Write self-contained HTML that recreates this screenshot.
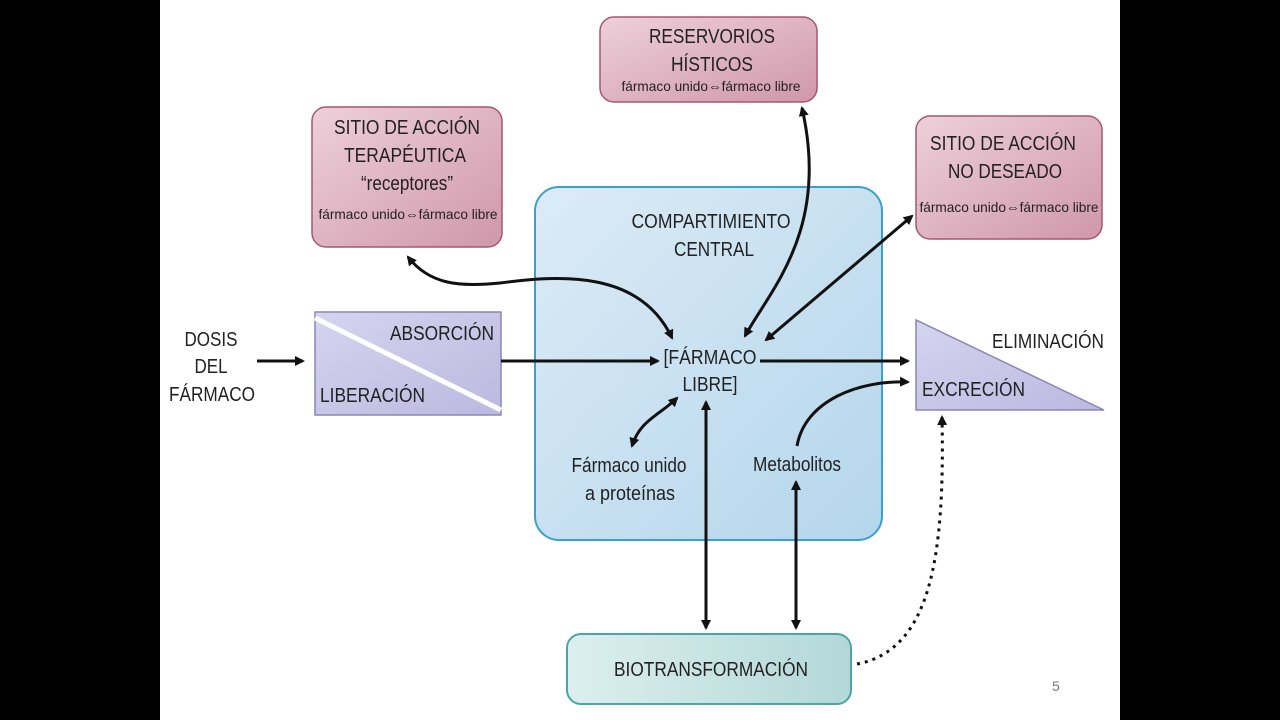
<!DOCTYPE html>
<html><head><meta charset="utf-8"><style>
html,body{margin:0;padding:0;background:#000;}
svg{display:block;}
text{font-family:"Liberation Sans",sans-serif;fill:#222;}
</style></head><body>
<svg width="1280" height="720" viewBox="0 0 1280 720" xmlns="http://www.w3.org/2000/svg">
<defs>
<linearGradient id="pk" x1="0" y1="0" x2="1" y2="1"><stop offset="0" stop-color="#eed0da"/><stop offset="1" stop-color="#cf97aa"/></linearGradient>
<linearGradient id="bl" x1="0" y1="0" x2="1" y2="1"><stop offset="0" stop-color="#dcebf6"/><stop offset="1" stop-color="#b4d6ec"/></linearGradient>
<linearGradient id="tl" x1="0" y1="0" x2="1" y2="0"><stop offset="0" stop-color="#dcefee"/><stop offset="1" stop-color="#b3d8d8"/></linearGradient>
<linearGradient id="lv" x1="0" y1="0" x2="1" y2="1"><stop offset="0" stop-color="#d6d4ee"/><stop offset="1" stop-color="#bcb8e0"/></linearGradient>
<marker id="a" markerWidth="10" markerHeight="10" refX="8" refY="5" orient="auto-start-reverse" markerUnits="userSpaceOnUse"><path d="M0,0 L10,5 L0,10 z" fill="#111"/></marker>
</defs>
<rect x="160" y="0" width="960" height="720" fill="#fff"/>

<rect x="535" y="187" width="347" height="353" rx="24" fill="url(#bl)" stroke="#3aa0cc" stroke-width="2"/>
<rect x="312" y="107" width="190" height="140" rx="14" fill="url(#pk)" stroke="#a85573" stroke-width="1.5"/>
<rect x="600" y="17" width="217" height="85" rx="14" fill="url(#pk)" stroke="#a85573" stroke-width="1.5"/>
<rect x="916" y="116" width="186" height="123" rx="14" fill="url(#pk)" stroke="#a85573" stroke-width="1.5"/>
<rect x="567" y="634" width="284" height="70" rx="14" fill="url(#tl)" stroke="#4aa6a6" stroke-width="2"/>
<rect x="315" y="312" width="186" height="103" fill="url(#lv)" stroke="#8a86b8" stroke-width="1.5"/>
<line x1="315" y1="318" x2="501" y2="410" stroke="#fff" stroke-width="5"/>
<polygon points="916,320 916,410 1104,410" fill="url(#lv)" stroke="#8a86b8" stroke-width="1.5"/>

<g text-anchor="middle" font-size="20" lengthAdjust="spacingAndGlyphs">
<text x="407" y="134" textLength="146" lengthAdjust="spacingAndGlyphs">SITIO DE ACCIÓN</text>
<text x="405" y="162" textLength="122" lengthAdjust="spacingAndGlyphs">TERAPÉUTICA</text>
<text x="407" y="190" textLength="92" lengthAdjust="spacingAndGlyphs">“receptores”</text>
<text x="408" y="219" font-size="14" textLength="179" lengthAdjust="spacingAndGlyphs">fármaco unido⇔fármaco libre</text>
<text x="712" y="43" textLength="126" lengthAdjust="spacingAndGlyphs">RESERVORIOS</text>
<text x="712" y="71" textLength="82" lengthAdjust="spacingAndGlyphs">HÍSTICOS</text>
<text x="711" y="91" font-size="14" textLength="179" lengthAdjust="spacingAndGlyphs">fármaco unido⇔fármaco libre</text>
<text x="1003" y="150" textLength="146" lengthAdjust="spacingAndGlyphs">SITIO DE ACCIÓN</text>
<text x="1005" y="178" textLength="114" lengthAdjust="spacingAndGlyphs">NO DESEADO</text>
<text x="1009" y="212" font-size="14" textLength="179" lengthAdjust="spacingAndGlyphs">fármaco unido⇔fármaco libre</text>
<text x="711" y="228" textLength="159" lengthAdjust="spacingAndGlyphs">COMPARTIMIENTO</text>
<text x="714" y="256" textLength="80" lengthAdjust="spacingAndGlyphs">CENTRAL</text>
<text x="710" y="364" textLength="93" lengthAdjust="spacingAndGlyphs">[FÁRMACO</text>
<text x="710" y="391" textLength="55" lengthAdjust="spacingAndGlyphs">LIBRE]</text>
<text x="629" y="472" textLength="115" lengthAdjust="spacingAndGlyphs">Fármaco unido</text>
<text x="630" y="500" textLength="90" lengthAdjust="spacingAndGlyphs">a proteínas</text>
<text x="797" y="471" textLength="88" lengthAdjust="spacingAndGlyphs">Metabolitos</text>
<text x="711" y="676" textLength="194" lengthAdjust="spacingAndGlyphs">BIOTRANSFORMACIÓN</text>
<text x="211" y="346" textLength="53" lengthAdjust="spacingAndGlyphs">DOSIS</text>
<text x="211" y="373" textLength="33" lengthAdjust="spacingAndGlyphs">DEL</text>
<text x="212" y="401" textLength="86" lengthAdjust="spacingAndGlyphs">FÁRMACO</text>
<text x="1048" y="348" textLength="112" lengthAdjust="spacingAndGlyphs">ELIMINACIÓN</text>
</g>
<text x="390" y="340" font-size="20" textLength="104" lengthAdjust="spacingAndGlyphs">ABSORCIÓN</text>
<text x="320" y="402" font-size="20" textLength="105" lengthAdjust="spacingAndGlyphs">LIBERACIÓN</text>
<text x="922" y="396" font-size="20" textLength="103" lengthAdjust="spacingAndGlyphs">EXCRECIÓN</text>
<text x="1052" y="691" font-size="14" style="fill:#777">5</text>

<g stroke="#111" stroke-width="3" fill="none">
<line x1="257" y1="361" x2="303" y2="361" marker-end="url(#a)"/>
<line x1="501" y1="361" x2="658" y2="361" marker-end="url(#a)"/>
<line x1="760" y1="361" x2="908" y2="361" marker-end="url(#a)"/>
<path d="M672,338 C640,270 560,275 500,283 C460,287 430,285 408,257" marker-start="url(#a)" marker-end="url(#a)"/>
<path d="M745,336 C770,290 830,230 802,108" marker-start="url(#a)" marker-end="url(#a)"/>
<path d="M766,340 L912,216" marker-start="url(#a)" marker-end="url(#a)"/>
<path d="M677,398 C660,415 640,420 632,446" marker-start="url(#a)" marker-end="url(#a)"/>
<line x1="706" y1="402" x2="706" y2="628" marker-start="url(#a)" marker-end="url(#a)"/>
<line x1="796" y1="482" x2="796" y2="628" marker-start="url(#a)" marker-end="url(#a)"/>
<path d="M797,446 C805,400 860,380 908,382" marker-end="url(#a)"/>
<path d="M857,664 C930,650 945,560 942,417" stroke-dasharray="3,5" marker-end="url(#a)"/>
</g>
</svg>
</body></html>
